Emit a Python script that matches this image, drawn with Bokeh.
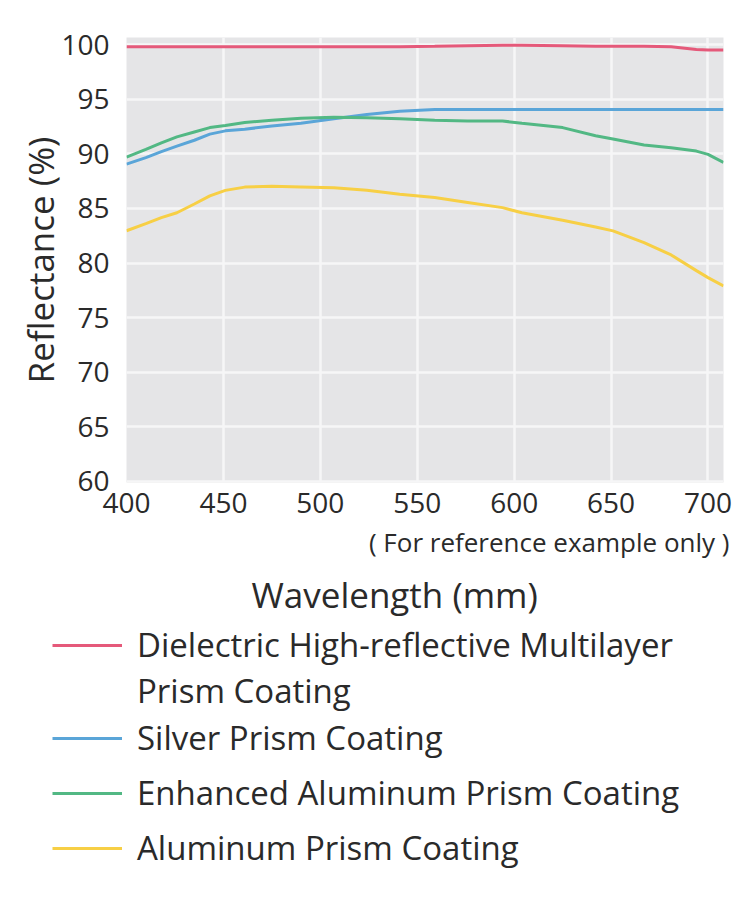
from bokeh.plotting import figure
from bokeh.models import Range1d, FixedTicker, Title, Legend, LegendItem
from bokeh.layouts import column, row
from bokeh.embed import file_html
from bokeh.resources import INLINE

wavelength = [400, 410, 418, 426, 435, 443, 451, 461, 475, 490, 507, 524, 541, 559,
              576, 594, 604, 625, 642, 651, 667, 681, 694, 700, 708]

dielectric = [99.8, 99.8, 99.8, 99.8, 99.8, 99.8, 99.8, 99.8, 99.8, 99.8, 99.8, 99.8, 99.8, 99.85,
              99.9, 99.95, 99.95, 99.9, 99.85, 99.85, 99.85, 99.8, 99.55, 99.5, 99.5]
silver = [89.05, 89.65, 90.2, 90.7, 91.24, 91.8, 92.1, 92.25, 92.55, 92.8, 93.2, 93.6, 93.9, 94.05,
          94.05, 94.05, 94.05, 94.05, 94.05, 94.05, 94.05, 94.05, 94.05, 94.05, 94.05]
enh_al = [89.7, 90.4, 91.0, 91.55, 92.0, 92.4, 92.6, 92.86, 93.07, 93.25, 93.35, 93.3, 93.2, 93.07,
          93.0, 93.0, 92.8, 92.4, 91.65, 91.35, 90.8, 90.55, 90.25, 89.95, 89.2]
aluminum = [82.95, 83.6, 84.15, 84.6, 85.4, 86.15, 86.65, 86.95, 87.03, 86.97, 86.9, 86.66, 86.3, 86.0,
            85.55, 85.07, 84.6, 83.92, 83.3, 82.94, 81.87, 80.74, 79.3, 78.66, 77.9]

series_names = [
    "Dielectric High-reflective Multilayer",
    "Silver Prism Coating",
    "Enhanced Aluminum Prism Coating",
    "Aluminum Prism Coating",
]
name_second_line = "Prism Coating"
series_values = [dielectric, silver, enh_al, aluminum]
colors = ["#e5597a", "#5aa5d8", "#52b884", "#f7cf45"]

x_ticks = [400, 450, 500, 550, 600, 650, 700]
y_ticks = [60, 65, 70, 75, 80, 85, 90, 95, 100]

FONT = "Open Sans"
TXT = "#2a2a2a"
MAIN_H = 620
TOTAL_H = 916

# ---------------- main chart ----------------
p = figure(width=750, height=MAIN_H, output_backend="svg", toolbar_location=None,
           x_range=Range1d(400, 708), y_range=Range1d(59.9, 100.65),
           min_border_left=126, min_border_right=27, min_border_top=37,
           min_border_bottom=MAIN_H - 482)
p.background_fill_color = "#e5e5e7"
p.border_fill_color = "white"
p.outline_line_color = None

p.xgrid.ticker = FixedTicker(ticks=x_ticks)
p.ygrid.ticker = FixedTicker(ticks=y_ticks)
for g in (p.xgrid, p.ygrid):
    g.grid_line_color = "#f6f6f7"
    g.grid_line_width = 2.5

p.xaxis.ticker = FixedTicker(ticks=x_ticks)
p.yaxis.ticker = FixedTicker(ticks=y_ticks)
for ax in (p.xaxis, p.yaxis):
    ax.axis_line_color = None
    ax.major_tick_line_color = None
    ax.minor_tick_line_color = None
    ax.major_label_text_font = FONT
    ax.major_label_text_font_size = "28px"
    ax.major_label_text_color = TXT
p.yaxis.major_label_standoff = 11
p.xaxis.major_label_standoff = 4

p.yaxis.axis_label = "Reflectance (%)"
p.yaxis.axis_label_text_font = FONT
p.yaxis.axis_label_text_font_style = "normal"
p.yaxis.axis_label_text_font_size = "35px"
p.yaxis.axis_label_text_color = TXT
p.yaxis.axis_label_standoff = -6

for vals, c in zip(series_values, colors):
    p.line(wavelength, vals, line_color=c, line_width=3)

note = Title(text="( For reference example only )", align="right", offset=-6,
             text_font=FONT, text_font_size="26px", text_font_style="normal",
             text_color=TXT, standoff=12)
p.add_layout(note, "below")

xlabel = Title(text="Wavelength (mm)", align="left", offset=125,
               text_font=FONT, text_font_size="35px", text_font_style="normal",
               text_color=TXT, standoff=6)
p.add_layout(xlabel, "below")

# ---------------- legend panel ----------------
LEG_H = TOTAL_H - MAIN_H
q = figure(width=750, height=LEG_H, output_backend="svg", toolbar_location=None,
           x_range=Range1d(0, 1), y_range=Range1d(0, 1),
           x_axis_location=None, y_axis_location=None,
           min_border_left=0, min_border_right=0, min_border_top=0, min_border_bottom=0)
q.xgrid.visible = False
q.ygrid.visible = False
q.outline_line_color = None
q.background_fill_color = "white"
q.border_fill_color = "white"

leg_renderers = [q.line(wavelength, vals, line_color=c, line_width=3)
                 for vals, c in zip(series_values, colors)]
blank = q.line(wavelength, dielectric, line_alpha=0)

common = dict(orientation="vertical", label_text_font=FONT, label_text_font_size="33px",
              label_text_color=TXT, glyph_width=70, glyph_height=30,
              label_standoff=15, padding=0, margin=0,
              border_line_color=None, background_fill_alpha=0)

legend_a = Legend(items=[LegendItem(label=series_names[0], renderers=[leg_renderers[0]]),
                         LegendItem(label=name_second_line, renderers=[blank])],
                  location=(52, 203), spacing=1, **common)
legend_b = Legend(items=[LegendItem(label=n, renderers=[r])
                         for n, r in zip(series_names[1:], leg_renderers[1:])],
                  location=(52, 46), spacing=10, **common)
q.add_layout(legend_a, "center")
q.add_layout(legend_b, "center")

open("out.html", "w").write(file_html(column(p, row(q)), INLINE))
